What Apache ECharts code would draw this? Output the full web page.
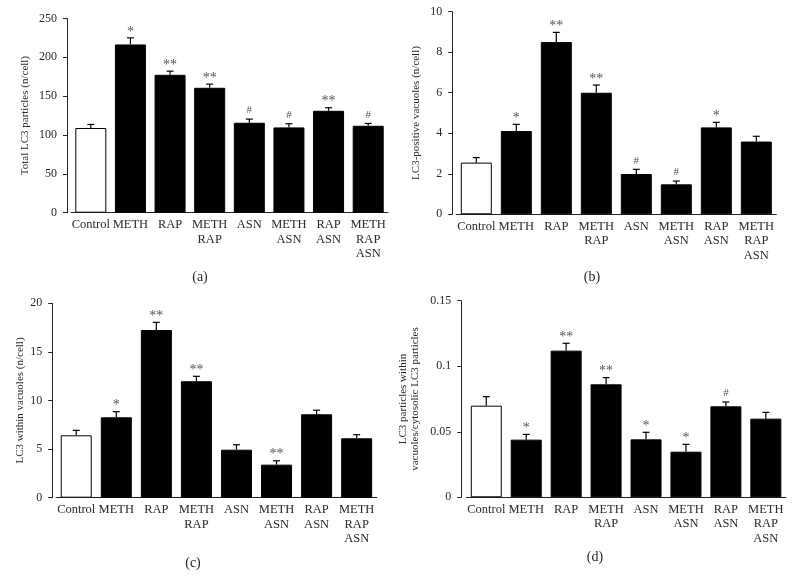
<!DOCTYPE html>
<html>
<head>
<meta charset="utf-8">
<script src="https://cdn.jsdelivr.net/npm/echarts@6/dist/echarts.min.js"></script>
<style>
html,body{margin:0;padding:0;background:#fff;}
#chart{width:798px;height:588px;}
</style>
</head>
<body>
<div id="chart"></div>
<script>
const categories = ['Control', 'METH', 'RAP', 'METH\nRAP', 'ASN', 'METH\nASN', 'RAP\nASN', 'METH\nRAP\nASN'];

const totalMean = [109, 216.6, 177.5, 160.8, 115.8, 109.8, 131.2, 111.9];
const totalErr  = [4.6, 8.5, 4.7, 4.7, 4.7, 4.7, 3.9, 3.0];
const totalSig  = ['', '*', '**', '**', '#', '#', '**', '#'];

const vacMean = [2.55, 4.11, 8.5, 6.0, 1.99, 1.48, 4.29, 3.59];
const vacErr  = [0.25, 0.33, 0.48, 0.38, 0.23, 0.16, 0.25, 0.26];
const vacSig  = ['', '*', '**', '**', '#', '#', '*', ''];

const withinMean = [6.42, 8.27, 17.25, 11.98, 4.94, 3.4, 8.58, 6.11];
const withinErr  = [0.51, 0.58, 0.79, 0.51, 0.51, 0.4, 0.42, 0.37];
const withinSig  = ['', '*', '**', '**', '', '**', '', ''];

const ratioMean = [0.0699, 0.044, 0.1119, 0.0862, 0.0442, 0.0348, 0.0694, 0.06];
const ratioErr  = [0.0069, 0.004, 0.0056, 0.0051, 0.0054, 0.0056, 0.0033, 0.0048];
const ratioSig  = ['', '*', '**', '**', '*', '*', '#', ''];

const yMax = [250, 10, 20, 0.15];
const yInterval = [50, 2, 5, 0.05];
const yNames = ['Total LC3 particles (n/cell)', 'LC3-positive vacuoles (n/cell)', 'LC3 within vacuoles (n/cell)', 'LC3 particles within\nvacuoles/cytosolic LC3 particles'];
const panelLabels = ['(a)', '(b)', '(c)', '(d)'];

const panels = [
  {mean: totalMean, err: totalErr, sig: totalSig},
  {mean: vacMean, err: vacErr, sig: vacSig},
  {mean: withinMean, err: withinErr, sig: withinSig},
  {mean: ratioMean, err: ratioErr, sig: ratioSig}
];

// layout (pixels)
const grids = [
  {left: 71, top: 18.5, width: 317, height: 194.2},
  {left: 456.3, top: 11.7, width: 320, height: 202.6},
  {left: 56.2, top: 303.3, width: 320.5, height: 194.4},
  {left: 466.3, top: 300.7, width: 319.5, height: 196.6}
];
const yOffsets = [4, 4, 4, 5];
const nameGaps = [36, 30.5, 24.5, 40];
const labelPos = [[200, 277], [592, 277], [193, 563], [595, 557]];

const FONT = '"Liberation Serif", "DejaVu Serif", serif';
const TXT = '#2a2a2a';

const chart = echarts.init(document.getElementById('chart'), null, {renderer: 'canvas'});

const option = {
  backgroundColor: '#fff',
  animation: false,
  textStyle: {fontFamily: FONT},
  grid: grids.map(g => Object.assign({containLabel: false}, g)),
  xAxis: grids.map((g, i) => ({
    type: 'category',
    gridIndex: i,
    data: categories,
    boundaryGap: true,
    axisLine: {show: true, lineStyle: {color: '#222', width: 1}},
    axisTick: {show: false},
    axisLabel: {
      interval: 0, margin: 5, color: TXT, fontFamily: FONT, fontSize: 12.5, lineHeight: 14.5
    },
    splitLine: {show: false}
  })),
  yAxis: grids.map((g, i) => ({
    type: 'value',
    gridIndex: i,
    min: 0,
    max: yMax[i],
    interval: yInterval[i],
    offset: yOffsets[i],
    name: yNames[i],
    nameLocation: 'middle',
    nameGap: nameGaps[i],
    nameRotate: 90,
    nameTextStyle: {color: TXT, fontFamily: FONT, fontSize: 11, lineHeight: 12},
    axisLine: {show: true, lineStyle: {color: '#222', width: 1}},
    axisTick: {show: true, length: 4, inside: false, lineStyle: {color: '#222'}},
    axisLabel: {color: TXT, fontFamily: FONT, fontSize: 12, margin: 10},
    splitLine: {show: false}
  })),
  graphic: panelLabels.map((t, i) => ({
    type: 'text',
    x: labelPos[i][0],
    y: labelPos[i][1],
    style: {text: t, fill: TXT, font: '14px ' + FONT, textAlign: 'center', textVerticalAlign: 'middle'}
  })),
  series: []
};

panels.forEach((p, i) => {
  option.series.push({
    type: 'bar',
    xAxisIndex: i,
    yAxisIndex: i,
    barWidth: 31,
    data: p.mean.map((v, k) => ({
      value: v,
      itemStyle: {color: k === 0 ? '#ffffff' : '#000000', borderColor: '#000', borderWidth: 1}
    }))
  });
  option.series.push({
    type: 'custom',
    xAxisIndex: i,
    yAxisIndex: i,
    data: p.mean.map((v, k) => [k, v, p.err[k]]),
    z: 5,
    renderItem: function (params, api) {
      const x = api.value(0), m = api.value(1), e = api.value(2);
      const base = api.coord([x, m]);
      const top = api.coord([x, m + e]);
      const cap = 3.5;
      const sig = p.sig[params.dataIndex];
      const children = [
        {type: 'line', shape: {x1: base[0], y1: base[1], x2: top[0], y2: top[1]}, style: {stroke: '#000', lineWidth: 1.2}},
        {type: 'line', shape: {x1: top[0] - cap, y1: top[1], x2: top[0] + cap, y2: top[1]}, style: {stroke: '#000', lineWidth: 1.2}}
      ];
      if (sig) {
        const isHash = sig === '#';
        children.push({
          type: 'text',
          x: top[0],
          y: top[1] - (isHash ? 3 : -1),
          style: {
            text: sig,
            fill: '#555',
            font: (isHash ? '11px ' : '14px ') + FONT,
            textAlign: 'center',
            textVerticalAlign: 'bottom'
          }
        });
      }
      return {type: 'group', children: children};
    }
  });
});

chart.setOption(option);
</script>
</body>
</html>
